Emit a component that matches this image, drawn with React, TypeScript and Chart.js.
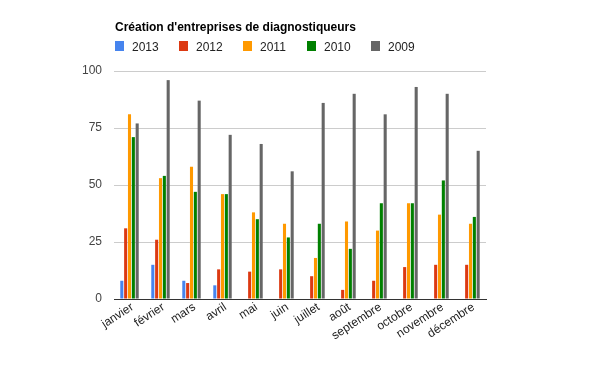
import React, { useEffect, useRef } from "react";
import { Chart, registerables } from "chart.js";

Chart.register(...registerables);

const TITLE = "Création d'entreprises de diagnostiqueurs";
const MONTHS = ["janvier", "février", "mars", "avril", "mai", "juin", "juillet", "août", "septembre", "octobre", "novembre", "décembre"];
const SERIES_NAMES = ["2013", "2012", "2011", "2010", "2009"];
const COLORS = ["#4684ee", "#dc3912", "#ff9900", "#008000", "#666666"];
const Y_TICKS = [0, 25, 50, 75, 100];

const V2013 = [8, 15, 8, 6, 0, 0, 0, 0, 0, 0, 0, 0];
const V2012 = [31, 26, 7, 13, 12, 13, 10, 4, 8, 14, 15, 15];
const V2011 = [81, 53, 58, 46, 38, 33, 18, 34, 30, 42, 37, 33];
const V2010 = [71, 54, 47, 46, 35, 27, 33, 22, 42, 42, 52, 36];
const V2009 = [77, 96, 87, 72, 68, 56, 86, 90, 81, 93, 90, 65];

const SERIES = [V2013, V2012, V2011, V2010, V2009];
const FONT = '"Liberation Sans", Arial, sans-serif';

const headerPlugin = {
  id: "header",
  afterDraw(chart: any) {
    const ctx = chart.ctx;
    ctx.save();
    ctx.fillStyle = "#000";
    ctx.font = `bold 12px ${FONT}`;
    ctx.textAlign = "left";
    ctx.textBaseline = "alphabetic";
    ctx.fillText(TITLE, 115, 31);
    ctx.font = `12px ${FONT}`;
    chart.data.datasets.forEach((ds: any, i: number) => {
      const x = 115 + i * 64;
      ctx.fillStyle = ds.backgroundColor;
      ctx.fillRect(x, 41, 9, 10);
      ctx.fillStyle = "#222";
      ctx.fillText(ds.label, x + 17, 50.5);
    });
    ctx.restore();
  },
};

export default function App() {
  const ref = useRef<HTMLCanvasElement>(null);
  useEffect(() => {
    document.body.style.margin = "0";
    const chart = new Chart(ref.current!, {
      type: "bar",
      data: {
        labels: MONTHS,
        datasets: SERIES.map((vals, i) => ({
          label: SERIES_NAMES[i],
          data: vals,
          backgroundColor: COLORS[i],
          borderWidth: 0,
          categoryPercentage: 0.62,
          barPercentage: 0.8,
        })),
      },
      options: {
        animation: false,
        responsive: false,
        maintainAspectRatio: false,
        layout: { padding: { top: 71, right: 114, left: 0, bottom: 0 } },
        plugins: { legend: { display: false }, title: { display: false }, tooltip: { enabled: false } },
        scales: {
          x: {
            grid: { display: false, drawTicks: false },
            border: { display: true, color: "#333", width: 1 },
            ticks: {
              minRotation: 33,
              maxRotation: 33,
              autoSkip: false,
              padding: 1,
              labelOffset: 3,
              color: "#222",
              font: { family: FONT, size: 12 },
            },
            afterFit: (s: any) => { s.height = 72; },
          },
          y: {
            min: 0,
            max: 100,
            afterBuildTicks: (s: any) => { s.ticks = Y_TICKS.map((v) => ({ value: v })); },
            grid: { color: (c: any) => (c.tick && c.tick.value === 0 ? "#333" : "#cccccc"), drawTicks: false },
            border: { display: false },
            ticks: { padding: 12, color: "#444", font: { family: FONT, size: 12 } },
            afterFit: (s: any) => { s.width = 114; },
          },
        },
      },
      plugins: [headerPlugin],
    });
    return () => chart.destroy();
  }, []);
  return (
    <div style={{ width: 600, height: 371 }}>
      <canvas ref={ref} width={600} height={371} style={{ display: "block" }} />
    </div>
  );
}
